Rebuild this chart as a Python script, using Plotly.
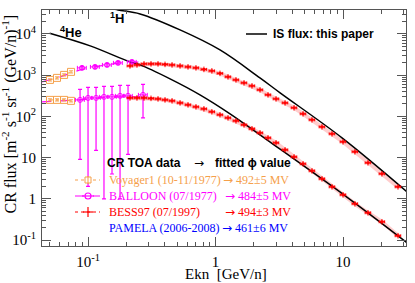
import plotly.graph_objects as go

# ---------------- data ----------------
# IS flux curves ("this paper")
is_h_e = [0.135, 0.172, 0.256, 0.527, 1.084, 2.23, 3.21, 9.82, 32.4]
is_h_f = [45000, 38200, 30500, 12500, 4090, 857, 372, 30.1, 1.40]
is_he_e = [0.05, 0.104, 0.213, 0.256, 0.44, 0.755, 1.30, 2.53, 10.4, 31.8]
is_he_f = [10400, 5120, 2094, 1770, 811, 332, 115, 26.9, 1.18, 0.0857]

# Voyager1 (10-11/1977)
voy_e = [0.0503, 0.0571, 0.0649, 0.0736]
voy_h = [767, 857, 1013, 1200]
voy_he = [251, 251, 251, 238]

# BALLOON (07/1977)
bal_h_e = [0.0897, 0.1135, 0.141, 0.172, 0.221]
bal_h = [1500, 1585, 1770, 1981, 2094]
bal_he_e = [0.0866, 0.1, 0.1156, 0.1334, 0.1542, 0.1783, 0.206, 0.270]
bal_he = [251, 280, 280, 297, 297, 314, 314, 332]
bal_he_lo = [242, 278, 265, 296, 293, 313, 302, 240]
bal_he_hi = [200, 224, 224, 238, 238, 251, 251, 266]

# modulated fit (dashed) at low energy
fit_e = [0.0436, 0.0603, 0.0866, 0.124, 0.1783, 0.256]
fit_h = [685, 907, 1340, 1675, 1981, 2094]
fit_he = [225, 238, 251, 280, 297, 297]

# BESS97 (07/1997)
bess_e = [0.2133, 0.2421, 0.2748, 0.3119, 0.3540, 0.4018, 0.4560, 0.5271, 0.6085,
          0.7025, 0.8111, 0.9363, 1.084, 1.253, 1.447, 1.673, 1.932, 2.234, 2.581,
          2.983, 3.51, 4.13, 4.86, 5.71, 6.84, 8.20, 10.0, 12.4, 15.7, 20.2, 27.0]
bess_h = [1675, 1770, 1875, 1875, 1875, 1823, 1770, 1675, 1585, 1500, 1378, 1268,
          1102, 907, 767, 649, 549, 439, 332, 265, 212, 161, 115, 82.3, 55.6, 37.6,
          24.1, 13.8, 7.46, 4.04, 1.95]
bess_he = [280, 280, 280, 273, 265, 251, 238, 212, 190, 170, 152, 129, 109, 92,
           77.8, 62.2, 49.8, 39.8, 30.1, 22.8, 15.4, 10.4, 7.05, 4.77, 3.05, 1.95,
           1.25, 0.757, 0.458, 0.277, 0.127]

x_tickvals = [0.1, 1, 10]
x_ticktext = ["10<sup>-1</sup>", "1", "10"]
y_tickvals = [0.1, 1, 10, 100, 1000, 10000]
y_ticktext = ["10<sup>-1</sup>", "1", "10", "10<sup>2</sup>", "10<sup>3</sup>", "10<sup>4</sup>"]

ARW = "<span style='font-family:DejaVu Sans'>\u2192</span>"
legend_rows = [
    ("Voyager1 (10-11/1977)", ARW + " 492\u00b15 MV", "#F5A04A"),
    ("BALLOON (07/1977)", ARW + " 484\u00b15 MV", "#FF00FF"),
    ("BESS97 (07/1997)", ARW + " 494\u00b13 MV", "#FF0000"),
    ("PAMELA (2006-2008)", ARW + " 461\u00b16 MV", "#0000FF"),
]

ORANGE = "#F5A04A"
MAG = "#FF00FF"
RED = "#FF0000"
SERIF = "Liberation Serif, Times New Roman, serif"
SANS = "Liberation Sans, Arial, sans-serif"

fig = go.Figure()

# fit lines
for yy in (fit_h, fit_he):
    fig.add_trace(go.Scatter(x=fit_e, y=yy, mode="lines",
                             line=dict(color=MAG, width=1.2, dash="dash"),
                             hoverinfo="skip", showlegend=False))

# BESS halo
for yy in (bess_h, bess_he):
    fig.add_trace(go.Scatter(x=bess_e, y=yy, mode="lines",
                             line=dict(color="rgba(255,90,90,0.3)", width=4),
                             hoverinfo="skip", showlegend=False))

# IS curves
for ee, ff in ((is_h_e, is_h_f), (is_he_e, is_he_f)):
    fig.add_trace(go.Scatter(x=ee, y=ff, mode="lines",
                             line=dict(color="black", width=1.5, shape="spline"),
                             showlegend=False))

# Voyager
for yy in (voy_h, voy_he):
    fig.add_trace(go.Scatter(x=voy_e, y=yy, mode="lines+markers",
                             line=dict(color=ORANGE, width=1, dash="dot"),
                             marker=dict(symbol="square-open", size=7, color=ORANGE,
                                         line=dict(width=1)),
                             error_y=dict(type="percent", value=6, color=ORANGE,
                                          thickness=1, width=2),
                             showlegend=False))

# BALLOON
fig.add_trace(go.Scatter(x=bal_h_e, y=bal_h, mode="markers",
                         marker=dict(symbol="circle-open", size=5, color=MAG,
                                     line=dict(width=1)),
                         error_x=dict(type="percent", value=8, color=MAG, thickness=1, width=2),
                         error_y=dict(type="percent", value=8, color=MAG, thickness=1, width=2),
                         showlegend=False))
fig.add_trace(go.Scatter(x=bal_he_e, y=bal_he, mode="markers",
                         marker=dict(symbol="circle-open", size=5, color=MAG,
                                     line=dict(width=1)),
                         error_x=dict(type="percent", value=8, color=MAG, thickness=1, width=2),
                         error_y=dict(type="data", array=bal_he_hi, arrayminus=bal_he_lo,
                                      symmetric=False, color=MAG, thickness=1.2, width=2),
                         showlegend=False))

# BESS
for yy in (bess_h, bess_he):
    fig.add_trace(go.Scatter(x=bess_e, y=yy, mode="markers",
                             marker=dict(symbol="cross-thin", size=4, color=RED,
                                         line=dict(width=1, color=RED)),
                             error_x=dict(type="percent", value=5, color=RED,
                                          thickness=1, width=1.5),
                             error_y=dict(type="percent", value=5, color=RED,
                                          thickness=1, width=1.5),
                             showlegend=False))

# ---------------- layout ----------------
L, R, T, B = 42, 406, 10, 246
W = R - L
H = B - T


def px(x):
    return (x - L) / W


def py(y):
    return (B - y) / H


minor_x = [v * 10 ** k for k in (-2, -1, 0, 1) for v in range(2, 10)]
minor_x = [v for v in minor_x if 0.0436 < v < 31]
minor_y = [v * 10 ** k for k in (-1, 0, 1, 2, 3, 4) for v in range(2, 10)]
minor_y = [v for v in minor_y if 0.0716 < v < 38000]

axis_common = dict(showgrid=False, zeroline=False, showline=True, linecolor="#555",
                   linewidth=1, mirror="ticks", ticks="inside", ticklen=9,
                   tickcolor="#555", tickwidth=1, automargin=False,
                   tickfont=dict(family=SERIF, size=15, color="black"))

fig.update_xaxes(type="log", range=[-1.361, 1.494], tickmode="array",
                 tickvals=x_tickvals, ticktext=x_ticktext,
                 minor=dict(tickmode="array", tickvals=minor_x, ticks="inside",
                            ticklen=4, tickcolor="#555", showgrid=False),
                 ticklabelstandoff=2,
                 **axis_common)
fig.update_yaxes(type="log", range=[-1.145, 4.58], tickmode="array",
                 tickvals=y_tickvals, ticktext=y_ticktext,
                 minor=dict(tickmode="array", tickvals=minor_y, ticks="inside",
                            ticklen=4, tickcolor="#555", showgrid=False),
                 ticklabelstandoff=2,
                 **axis_common)

ann = []
ann.append(dict(x=px(10), y=py(13), xref="paper", yref="paper", textangle=-90,
                text="CR flux [m<sup>-2</sup> s<sup>-1</sup> sr<sup>-1</sup> (GeV/n)<sup>-1</sup>]",
                showarrow=False, xanchor="center", yanchor="top",
                font=dict(family=SERIF, size=16, color="black")))
ann.append(dict(x=px(226), y=py(273.5), xref="paper", yref="paper",
                text="Ekn\u00a0\u00a0[GeV/n]", showarrow=False,
                xanchor="center", yanchor="middle",
                font=dict(family=SERIF, size=15, color="black")))
ann.append(dict(x=px(117), y=py(18), xref="paper", yref="paper",
                text="<b><sup>1</sup>H</b>", showarrow=False, xanchor="center",
                yanchor="middle", font=dict(family=SANS, size=13, color="black")))
ann.append(dict(x=px(71), y=py(32), xref="paper", yref="paper",
                text="<b><sup>4</sup>He</b>", showarrow=False, xanchor="center",
                yanchor="middle", font=dict(family=SANS, size=13, color="black")))
ann.append(dict(x=px(271), y=py(34), xref="paper", yref="paper",
                text="<b>IS flux: this paper</b>", showarrow=False, xanchor="left",
                yanchor="middle", font=dict(family=SANS, size=12, color="black")))
ann.append(dict(x=px(105), y=py(163), xref="paper", yref="paper",
                text="<b>CR TOA data</b>", showarrow=False, xanchor="left",
                yanchor="middle", font=dict(family=SANS, size=12, color="black")))
ann.append(dict(x=px(199), y=py(163), xref="paper", yref="paper",
                text="\u2192", showarrow=False, xanchor="center",
                yanchor="middle", font=dict(family="DejaVu Sans", size=12, color="black")))
ann.append(dict(x=px(213), y=py(163), xref="paper", yref="paper",
                text="<b>fitted \u03d5 value</b>", showarrow=False, xanchor="left",
                yanchor="middle", font=dict(family=SANS, size=12, color="black")))

row_y = [180, 196, 212, 228]
arrow_x = [221, 223, 223, 220]
for (name, val, col), yy, ax in zip(legend_rows, row_y, arrow_x):
    ann.append(dict(x=px(107), y=py(yy), xref="paper", yref="paper", text=name,
                    showarrow=False, xanchor="left", yanchor="middle",
                    font=dict(family=SERIF, size=12, color=col)))
    ann.append(dict(x=px(ax), y=py(yy), xref="paper", yref="paper", text=val,
                    showarrow=False, xanchor="left", yanchor="middle",
                    font=dict(family=SERIF, size=12, color=col)))

shapes = []
# IS flux legend line
shapes.append(dict(type="line", xref="paper", yref="paper", x0=px(246), x1=px(267),
                   y0=py(34), y1=py(34), line=dict(color="black", width=1.5)))
# legend symbols
sym = [(180, ORANGE, "dot"), (196, MAG, "dash"), (212, RED, "dot")]
for yy, col, dsh in sym:
    shapes.append(dict(type="line", xref="paper", yref="paper", x0=px(75), x1=px(100),
                       y0=py(yy), y1=py(yy), line=dict(color=col, width=1, dash=dsh)))
# orange square
shapes.append(dict(type="rect", xref="paper", yref="paper", x0=px(85), x1=px(91),
                   y0=py(183), y1=py(177), line=dict(color=ORANGE, width=1),
                   fillcolor="white"))
shapes.append(dict(type="line", xref="paper", yref="paper", x0=px(88), x1=px(88),
                   y0=py(184), y1=py(176), line=dict(color=ORANGE, width=1)))
# magenta circle
shapes.append(dict(type="circle", xref="paper", yref="paper", x0=px(85), x1=px(91),
                   y0=py(199), y1=py(193), line=dict(color=MAG, width=1.2),
                   fillcolor="white"))
shapes.append(dict(type="line", xref="paper", yref="paper", x0=px(82), x1=px(94),
                   y0=py(196), y1=py(196), line=dict(color=MAG, width=1.2)))
# red cross
shapes.append(dict(type="line", xref="paper", yref="paper", x0=px(83), x1=px(93),
                   y0=py(212), y1=py(212), line=dict(color=RED, width=1.2)))
shapes.append(dict(type="line", xref="paper", yref="paper", x0=px(88), x1=px(88),
                   y0=py(207), y1=py(217), line=dict(color=RED, width=1.2)))

fig.update_layout(width=415, height=283, margin=dict(l=L, r=415 - R, t=T, b=283 - B),
                  paper_bgcolor="white", plot_bgcolor="white", showlegend=False,
                  annotations=ann, shapes=shapes)

fig.write_html("out.html", config={"displayModeBar": False},
               post_script="document.body.style.margin='0';document.body.style.overflow='hidden';")
